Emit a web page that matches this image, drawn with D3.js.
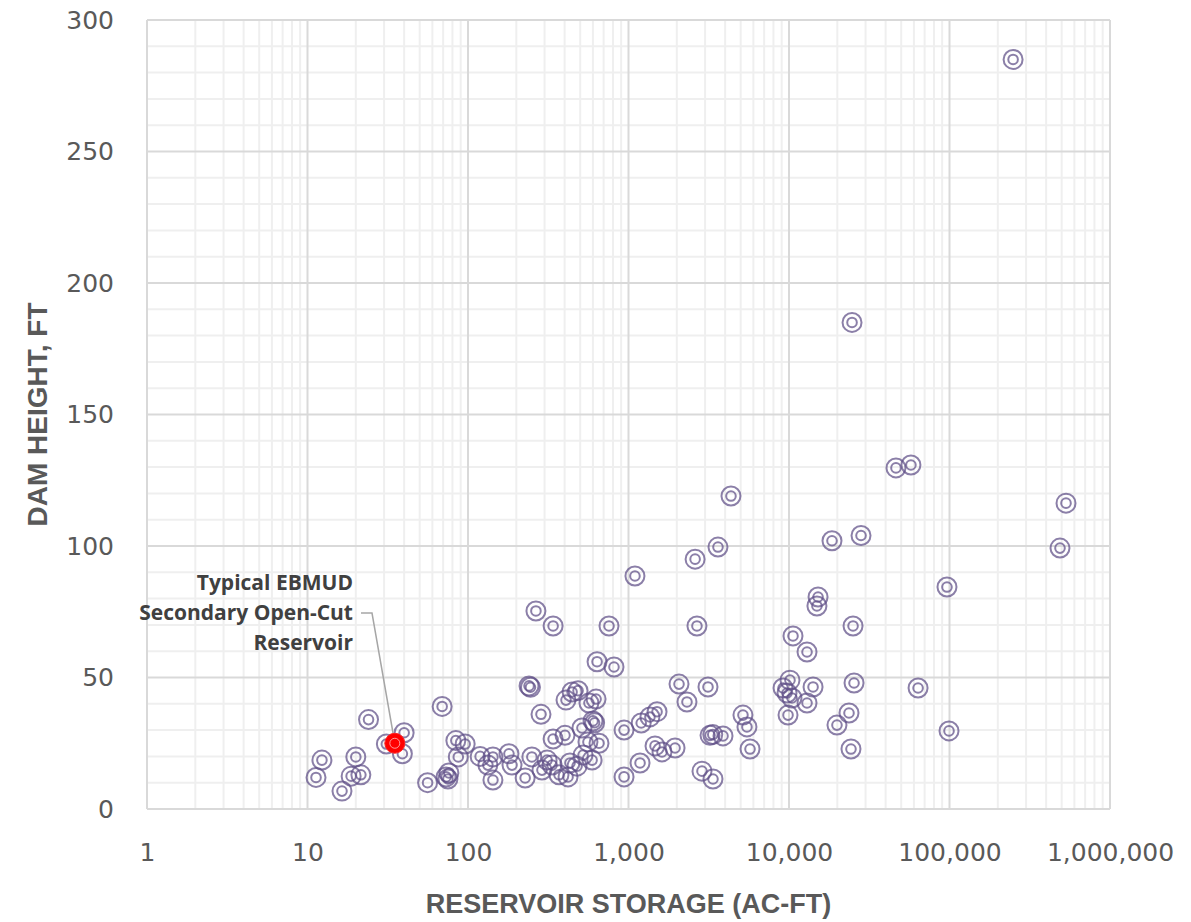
<!DOCTYPE html>
<html>
<head>
<meta charset="utf-8">
<script src="https://cdn.jsdelivr.net/npm/d3@7"></script>
<style>
  html, body { margin: 0; padding: 0; background: #fff; }
  svg { display: block; }
</style>
</head>
<body>
<svg id="chart" width="1191" height="922"></svg>
<script>
// Reservoir storage (ac-ft) and dam height (ft) for each dam
const storage = [
  11.3, 12.3, 16.4, 18.7, 20, 21.5, 24, 31, 40, 39,
  69, 56, 73, 76, 75, 84, 96, 87, 119, 143,
  180, 188, 133, 143, 250, 227, 311, 334, 289, 369,
  420, 432, 478, 521, 593, 938, 1180, 637, 812, 240,
  245, 408, 445, 485, 567, 628, 601, 615, 513, 285,
  339, 402, 559, 655, 938, 1200, 1360, 1506, 1463, 1617,
  1950, 2064, 3128, 2314, 3220, 3350, 3880, 2870, 3360, 5165,
  5470, 5716, 265, 339, 756, 1097, 2600, 2670, 3610, 4350,
  15170, 14930, 25060, 10590, 12950, 10140, 14120, 25420, 63700, 9720,
  10440, 12950, 9860, 23650, 19900, 24330, 99300, 96450, 18530, 28100,
  46400, 57500, 24700, 249000, 532000, 488000, 9180
];
const damHeight = [
  12, 18.6, 6.8, 12.5, 19.8, 13, 34, 24.7, 29, 21,
  39, 10, 12.2, 13.7, 11.4, 26, 24.7, 19.8, 20, 19.8,
  21, 16.7, 16.7, 11, 19.8, 11.8, 18.6, 16.7, 14.8, 13,
  12.2, 17.5, 16.3, 20.5, 18.6, 12.2, 17.5, 56, 54, 46.8,
  46.3, 41.4, 44.5, 45, 40.3, 41.8, 33.5, 32.8, 30.8, 36,
  26.6, 28, 25.5, 25, 30, 32.7, 35, 37, 24, 21.7,
  23.2, 47.5, 46.4, 40.7, 28, 28.3, 27.8, 14.4, 11.4, 35.7,
  31.2, 22.8, 75.3, 69.6, 69.6, 88.6, 95, 69.6, 99.6, 119,
  80.6, 77.2, 69.6, 65.8, 59.7, 49, 46.4, 47.9, 46, 44.1,
  42.2, 40.3, 35.7, 36.5, 31.9, 22.8, 29.7, 84.4, 102, 104,
  129.7, 130.8, 185, 285, 116.3, 99.2, 46
];

// Highlighted reservoir
const typicalStorage = [35];
const typicalHeight = [25];
const typicalLabel = ["Typical EBMUD", "Secondary Open-Cut", "Reservoir"];

// Axis ticks
const xTickValues = [1, 10, 100, 1000, 10000, 100000, 1000000];
const xTickLabels = ["1", "10", "100", "1,000", "10,000", "100,000", "1,000,000"];
const yTickValues = [0, 50, 100, 150, 200, 250, 300];

const xTitle = "RESERVOIR STORAGE (AC-FT)";
const yTitle = "DAM HEIGHT, FT";

const svg = d3.select("#chart");
const plot = { left: 147, right: 1110, top: 20, bottom: 809 };

const x = d3.scaleLog().domain([1, 1000000]).range([plot.left, plot.right]);
const y = d3.scaleLinear().domain([0, 300]).range([plot.bottom, plot.top]);

// Grid: minor lines (2..9 of each decade, every 10 ft), then major lines
const minorX = [];
for (let e = 0; e < 6; e++) {
  for (let m = 2; m <= 9; m++) minorX.push(m * Math.pow(10, e));
}
const minorY = d3.range(0, 301, 10).filter(v => v % 50 !== 0);

const grid = svg.append("g");
grid.selectAll("line.mx").data(minorX).join("line")
  .attr("x1", d => x(d)).attr("x2", d => x(d))
  .attr("y1", plot.top).attr("y2", plot.bottom)
  .attr("stroke", "#efefef").attr("stroke-width", 2);
grid.selectAll("line.my").data(minorY).join("line")
  .attr("x1", plot.left).attr("x2", plot.right)
  .attr("y1", d => y(d)).attr("y2", d => y(d))
  .attr("stroke", "#efefef").attr("stroke-width", 2);
grid.selectAll("line.Mx").data(xTickValues).join("line")
  .attr("x1", d => x(d)).attr("x2", d => x(d))
  .attr("y1", plot.top).attr("y2", plot.bottom)
  .attr("stroke", "#d9d9d9").attr("stroke-width", 2);
grid.selectAll("line.My").data(yTickValues).join("line")
  .attr("x1", plot.left).attr("x2", plot.right)
  .attr("y1", d => y(d)).attr("y2", d => y(d))
  .attr("stroke", "#d9d9d9").attr("stroke-width", 2);

// Axes (labels only; gridlines carry the ticks)
const xAxis = d3.axisBottom(x).tickValues(xTickValues)
  .tickFormat((d, i) => xTickLabels[i]).tickSize(0).tickPadding(0);
const gx = svg.append("g").attr("transform", `translate(0,${plot.bottom + 34})`).call(xAxis);
gx.select(".domain").remove();
gx.selectAll("text")
  .attr("font-family", "'DejaVu Sans', sans-serif")
  .attr("font-size", 25).attr("fill", "#595959");

const yAxis = d3.axisLeft(y).tickValues(yTickValues).tickSize(0).tickPadding(0);
const gy = svg.append("g").attr("transform", `translate(${plot.left - 33},0)`).call(yAxis);
gy.select(".domain").remove();
gy.selectAll("text")
  .attr("font-family", "'DejaVu Sans', sans-serif")
  .attr("font-size", 25).attr("fill", "#595959");

// Axis titles
svg.append("text")
  .attr("x", (plot.left + plot.right) / 2).attr("y", 913)
  .attr("text-anchor", "middle")
  .attr("font-family", "'Liberation Sans Narrow', 'Arial Narrow', sans-serif")
  .attr("font-weight", "bold").attr("font-size", 27).attr("fill", "#595959")
  .text(xTitle);
svg.append("text")
  .attr("transform", `translate(47,${(plot.top + plot.bottom) / 2}) rotate(-90)`)
  .attr("text-anchor", "middle")
  .attr("font-family", "'Liberation Sans Narrow', 'Arial Narrow', sans-serif")
  .attr("font-weight", "bold").attr("font-size", 28).attr("fill", "#595959")
  .text(yTitle);

// Scatter markers: double ring
const pts = storage.map((s, i) => ({ s, h: damHeight[i] }));
const marks = svg.append("g");
const ringColor = "#5e4d86";
marks.selectAll("circle.outer").data(pts).join("circle")
  .attr("cx", d => x(d.s)).attr("cy", d => y(d.h)).attr("r", 9.5)
  .attr("fill", "none").attr("stroke", ringColor)
  .attr("stroke-opacity", 0.72).attr("stroke-width", 2);
marks.selectAll("circle.inner").data(pts).join("circle")
  .attr("cx", d => x(d.s)).attr("cy", d => y(d.h)).attr("r", 4.8)
  .attr("fill", "none").attr("stroke", ringColor)
  .attr("stroke-opacity", 0.72).attr("stroke-width", 2);

// Highlighted reservoir and its callout
const tx = x(typicalStorage[0]), ty = y(typicalHeight[0]);
const leader = [[361, 613], [372, 613], [tx, ty]];
svg.append("path")
  .attr("d", d3.line()(leader))
  .attr("fill", "none").attr("stroke", "#a6a6a6").attr("stroke-width", 1.5);
svg.append("circle")
  .attr("cx", tx).attr("cy", ty).attr("r", 10)
  .attr("fill", "#ff0000").attr("stroke", "#ff2020").attr("stroke-width", 1);
svg.append("circle")
  .attr("cx", tx).attr("cy", ty).attr("r", 5)
  .attr("fill", "none").attr("stroke", "#ff9a9a").attr("stroke-width", 1);

svg.append("text")
  .attr("x", 353).attr("y", 590)
  .attr("text-anchor", "end")
  .attr("font-family", "'Open Sans', sans-serif")
  .attr("font-weight", "bold").attr("font-size", 21).attr("fill", "#404040")
  .selectAll("tspan").data(typicalLabel).join("tspan")
  .attr("x", 353).attr("dy", (d, i) => i === 0 ? 0 : 30)
  .text(d => d);
</script>
</body>
</html>
